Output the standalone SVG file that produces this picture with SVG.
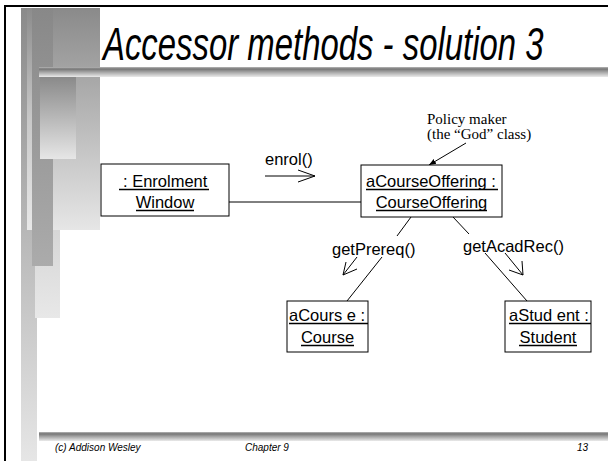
<svg xmlns="http://www.w3.org/2000/svg" width="608" height="461" viewBox="0 0 608 461">
<defs>
<linearGradient id="gA" x1="0" y1="0" x2="0" y2="1"><stop offset="0" stop-color="#8a8a8a"/><stop offset="1" stop-color="#e6e6e6"/></linearGradient>
<linearGradient id="gB" x1="0" y1="0" x2="0" y2="1"><stop offset="0" stop-color="#888888"/><stop offset="1" stop-color="#ababab"/></linearGradient>
<linearGradient id="gC" x1="0" y1="0" x2="0" y2="1"><stop offset="0" stop-color="#8c8c8c"/><stop offset="0.5" stop-color="#c8c8c8"/><stop offset="1" stop-color="#e8e8e8"/></linearGradient>
<linearGradient id="gBar" x1="0" y1="0" x2="0" y2="1"><stop offset="0" stop-color="#b8b8b8"/><stop offset="0.2" stop-color="#767676"/><stop offset="0.5" stop-color="#a4a4a4"/><stop offset="1" stop-color="#eaeaea"/></linearGradient>
<marker id="fh" viewBox="0 0 10 10" refX="10" refY="5" markerWidth="7" markerHeight="7" orient="auto" markerUnits="userSpaceOnUse"><path d="M0,1 L10,5 L0,9 z" fill="#000"/></marker>
</defs>
<style>
.ln{stroke:#000;stroke-width:1;fill:none}
.ul{stroke:#000;stroke-width:1.3}
.box{fill:#fff;stroke:#000;stroke-width:1}
.t{font-family:"Liberation Sans",Arial,sans-serif;font-size:16.5px;fill:#000}
.n{font-family:"Liberation Serif","Times New Roman",serif;font-size:15px;fill:#000}
.f{font-family:"Liberation Sans",Arial,sans-serif;font-size:10px;font-style:italic;fill:#000}
</style>
<rect x="0" y="0" width="608" height="461" fill="#fff"/>
<g id="decoration">
<rect x="21" y="8" width="16" height="453" fill="url(#gA)"/>
<rect x="35" y="8" width="25" height="310" fill="url(#gC)"/>
<rect x="53" y="8" width="47" height="222" fill="url(#gA)"/>
<rect x="27" y="8" width="5" height="222" fill="url(#gC)"/>
<rect x="32" y="8" width="21" height="258" fill="url(#gB)"/>
<rect x="40" y="77" width="36" height="82" fill="url(#gA)"/>
<rect x="39" y="67" width="569" height="10" fill="url(#gBar)"/>
<rect x="39" y="432" width="569" height="9" fill="url(#gBar)"/>
<path d="M5,461 V6 H608" stroke="#000" stroke-width="2" fill="none"/>
</g>
<text transform="translate(103,60) scale(0.7,1)" x="0" y="0" font-family="'Liberation Sans',Arial,sans-serif" font-size="47" font-style="italic">Accessor methods - solution 3</text>
<g id="connectors">
<line class="ln" x1="229" y1="202" x2="361" y2="202"/>
<line class="ln" x1="411" y1="217" x2="397" y2="236"/>
<line class="ln" x1="382" y1="257" x2="347" y2="301"/>
<line class="ln" x1="453" y1="217" x2="469" y2="234"/>
<line class="ln" x1="485" y1="253" x2="527" y2="301"/>
<line class="ln" x1="466" y1="143" x2="429" y2="165" marker-end="url(#fh)"/>
<path class="ln" d="M265,176 H315 M298,170 L315,176 L298,182"/>
<path class="ln" d="M357,257 L343,275 M346,262 L343,275 L357,269"/>
<path class="ln" d="M505,253 L523,275 M509,270 L523,275 L522,261"/>
<text class="t" x="265" y="165">enrol()</text>
<text class="t" x="332" y="255">getPrereq()</text>
<text class="t" x="463" y="252">getAcadRec()</text>
</g>
<g id="note">
<text class="n" x="427" y="124">Policy maker</text>
<text class="n" x="427" y="139">(the “God” class)</text>
</g>
<g id="enrolmentWindow">
<rect class="box" x="101" y="164" width="128" height="52"/>
<text class="t" x="123" y="187">: Enrolment</text>
<line class="ul" x1="119" y1="189.5" x2="209" y2="189.5"/>
<text class="t" x="165" y="208" text-anchor="middle">Window</text>
<line class="ul" x1="136" y1="210.5" x2="194" y2="210.5"/>
</g>
<g id="courseOffering">
<rect class="box" x="361" y="165" width="141" height="52"/>
<text class="t" x="366" y="187">aCourseOffering :</text>
<line class="ul" x1="366" y1="189.5" x2="498" y2="189.5"/>
<text class="t" x="431.5" y="208" text-anchor="middle">CourseOffering</text>
<line class="ul" x1="376" y1="210.5" x2="487" y2="210.5"/>
</g>
<g id="course">
<rect class="box" x="287" y="301" width="81" height="51"/>
<text class="t" x="289" y="321">aCours e :</text>
<line class="ul" x1="289" y1="323.5" x2="368" y2="323.5"/>
<text class="t" x="327.5" y="343" text-anchor="middle">Course</text>
<line class="ul" x1="301" y1="345.5" x2="354" y2="345.5"/>
</g>
<g id="student">
<rect class="box" x="505" y="301" width="86" height="51"/>
<text class="t" x="509" y="321">aStud ent :</text>
<line class="ul" x1="509" y1="323.5" x2="591" y2="323.5"/>
<text class="t" x="548" y="343" text-anchor="middle">Student</text>
<line class="ul" x1="519" y1="345.5" x2="577" y2="345.5"/>
</g>
<g id="footer">
<text class="f" x="55" y="451">(c) Addison Wesley</text>
<text class="f" x="245" y="451">Chapter 9</text>
<text class="f" x="577" y="451">13</text>
</g>
</svg>
